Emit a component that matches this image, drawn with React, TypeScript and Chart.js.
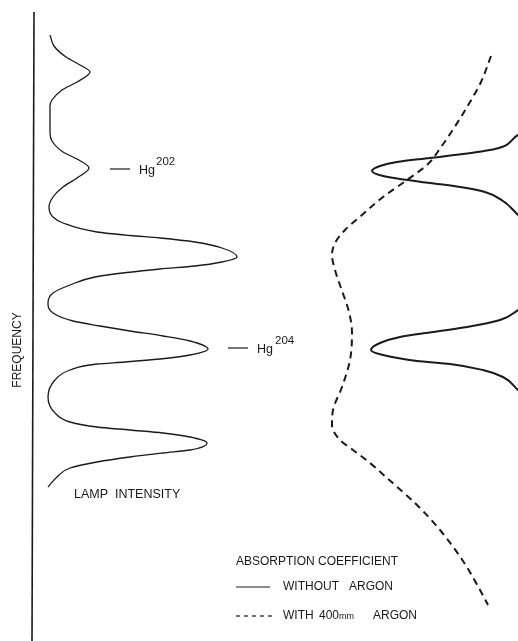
import React, { useEffect, useRef } from 'react';
import { Chart, registerables } from 'chart.js';

Chart.register(...registerables);

// ---- Lamp intensity (arbitrary units) versus frequency (arbitrary units, increasing upward)
const lampFrequency = [
  116.2, 114, 111.8, 110.2, 108.8, 106.8, 105.2, 103.2, 102, 96.6, 95, 92.8, 91.4, 89.6, 87.6, 85.8,
  83.8, 81.8, 79.8, 78.6, 76.8, 76.1, 75.6, 74.8, 73.6, 71.8, 70.8, 70, 69.4, 68.7, 67.8, 66.2, 64.6,
  62.6, 60.6, 59, 58, 57, 56, 55, 53.4, 52.2, 51.4, 50.8, 50.4, 49.2, 47.2, 43.8, 40.6, 38.8, 37.8,
  37.2, 36.6, 35.8, 34.6, 33.2, 32.6, 31.8, 30.8, 29.6, 27.8, 25.8,
];
const lampIntensity = [
  3.4, 4.2, 6.6, 9.4, 11.4, 8.8, 5.8, 3.8, 3.4, 3.4, 3.8, 6, 8.8, 11.2, 8.8, 6,
  4, 3.2, 4, 6, 12.8, 19.4, 25.4, 32.4, 37.8, 40.8, 37.8, 32.4, 25.4, 18.8, 12.4, 7.4, 4,
  3, 4, 8, 13.4, 19.4, 26, 31.4, 35, 31.4, 25.4, 18.4, 12.8, 7.4, 4.4, 3, 4.4, 7.4, 12.8,
  19.4, 26, 31.4, 34.8, 31.4, 26, 19.4, 12.8, 7.4, 4.8, 3,
];

// ---- Absorption coefficient without argon (axis increases to the left)
const noArgonFrequency = [
  111.2, 103.2, 98.8, 96.2, 93.4, 92.4, 91.6, 90.8, 90, 89, 88, 87.4, 86.6, 85.8, 84.8, 83, 80.2,
  76.8, 73.2, 70.8, 67.2, 64, 61.2, 59.2, 57.8, 56.8, 55.8, 54.6, 53.2, 52.2, 51, 50.4, 49.2, 47.8,
  45.2, 41.2, 35.2, 27.2,
];
const noArgonAbsorption = [
  2, 7.6, 14.6, 20, 24.6, 31, 37.6, 44.2, 47.6, 49.2, 47, 43.6, 37.6, 31.6, 26.6, 23, 20,
  16.6, 11.6, 7.6, 11.6, 16.6, 20, 23.6, 30.2, 37, 43.6, 47.6, 49.4, 47, 40.2, 33.6, 27, 23,
  20, 15.6, 9.6, 3.6,
];

// ---- Absorption coefficient with 400 mm argon
const argonFrequency = [
  112, 106.8, 101.8, 97.6, 93.8, 90.4, 87.2, 83.8, 80.2, 77.2, 74.6, 72.2, 69.2, 65.6, 60.8, 56.6,
  51.2, 45.8, 41.2, 38.2, 35.2, 33.2, 30.6, 27.6, 22.2, 17.2, 11, 5.2, 2.2,
];
const argonAbsorption = [
  25.4, 27.4, 30.2, 32.8, 35.4, 38, 42.2, 47, 51.2, 54.6, 56.6, 57.2, 56.6, 55.4, 53.8, 53.2,
  53.6, 55.2, 57, 57.2, 55.6, 53, 49.6, 46.2, 40.2, 35.6, 31, 27.6, 26,
];

const INK = '#1a1a1a';
const FONT = '"Liberation Sans", Arial, Helvetica, sans-serif';

const toPoints = (freq: number[], val: number[]) => freq.map((f, i) => ({ x: val[i], y: f }));

const figurePlugin = {
  id: 'figureAnnotations',
  afterDatasetsDraw(chart: any) {
    const ctx: CanvasRenderingContext2D = chart.ctx;
    const xs = chart.scales.x;
    const ys = chart.scales.y;
    const X = (v: number) => xs.getPixelForValue(v);
    const Y = (v: number) => ys.getPixelForValue(v);
    const text = (s: string, x: number, y: number, size: number, baseline: CanvasTextBaseline = 'middle', align: CanvasTextAlign = 'left') => {
      ctx.font = `${size}px ${FONT}`;
      ctx.textAlign = align;
      ctx.textBaseline = baseline;
      ctx.fillText(s, x, y);
    };
    const line = (x1: number, y1: number, x2: number, y2: number, w: number, dash: number[] = []) => {
      ctx.beginPath();
      ctx.setLineDash(dash);
      ctx.lineWidth = w;
      ctx.moveTo(x1, y1);
      ctx.lineTo(x2, y2);
      ctx.stroke();
      ctx.setLineDash([]);
    };
    ctx.save();
    ctx.fillStyle = INK;
    ctx.strokeStyle = INK;

    // frequency axis
    line(X(0.2), Y(120.8), X(-0.2), Y(-5), 1.6);

    // FREQUENCY label
    ctx.save();
    ctx.translate(X(-3.1), Y(53.2));
    ctx.rotate(-Math.PI / 2);
    text('FREQUENCY', 0, 0, 12, 'middle', 'center');
    ctx.restore();

    // LAMP INTENSITY
    text('LAMP  INTENSITY', X(8.2), Y(24.2), 12.5);

    // Hg 202
    line(X(15.4), Y(89.4), X(19.4), Y(89.4), 1.2);
    text('Hg', X(21.2), Y(88.4), 12.5, 'alphabetic');
    text('202', X(24.6), Y(90.2), 11.5, 'alphabetic');

    // Hg 204
    line(X(39), Y(53.6), X(43), Y(53.6), 1.2);
    text('Hg', X(44.8), Y(52.6), 12.5, 'alphabetic');
    text('204', X(48.4), Y(54.4), 11.5, 'alphabetic');

    // legend
    text('ABSORPTION COEFFICIENT', X(40.6), Y(10.8), 12);
    line(X(40.6), Y(5.8), X(47.4), Y(5.8), 1.2);
    text('WITHOUT   ARGON', X(50), Y(5.8), 12);
    line(X(40.6), Y(0), X(47.8), Y(0), 1.2, [4, 4]);
    text('WITH', X(50), Y(0), 12);
    text('400', X(57.2), Y(0), 12);
    text('mm', X(61.2), Y(0) + 1, 9);
    text('ARGON', X(68), Y(0), 12);

    ctx.restore();
  },
};

export default function App() {
  const canvasRef = useRef<HTMLCanvasElement | null>(null);

  useEffect(() => {
    if (!canvasRef.current) return;
    const chart = new Chart(canvasRef.current, {
      type: 'line',
      data: {
        datasets: [
          {
            label: 'Lamp intensity',
            data: toPoints(lampFrequency, lampIntensity),
            xAxisID: 'x',
            yAxisID: 'y',
            borderColor: INK,
            borderWidth: 1.3,
            clip: false,
          } as any,
          {
            label: 'Absorption coefficient, without argon',
            data: toPoints(noArgonFrequency, noArgonAbsorption),
            xAxisID: 'x2',
            yAxisID: 'y',
            borderColor: INK,
            borderWidth: 2,
            clip: false,
          } as any,
          {
            label: 'Absorption coefficient, with 400 mm argon',
            data: toPoints(argonFrequency, argonAbsorption),
            xAxisID: 'x2',
            yAxisID: 'y',
            borderColor: INK,
            borderWidth: 2,
            borderDash: [7, 5],
            clip: false,
          } as any,
        ],
      },
      options: {
        indexAxis: 'y',
        animation: false,
        responsive: false,
        maintainAspectRatio: false,
        events: [],
        layout: { padding: { left: 33, right: 35, top: 16, bottom: 25 } },
        elements: {
          point: { radius: 0 },
          line: { cubicInterpolationMode: 'monotone', capBezierPoints: false, fill: false },
        },
        scales: {
          x: { type: 'linear', min: 0, max: 90, display: false },
          x2: { type: 'linear', min: 27, max: 117, reverse: true, display: false },
          y: { type: 'linear', min: 0, max: 120, display: false },
        },
        plugins: {
          legend: { display: false },
          tooltip: { enabled: false },
          title: { display: false },
        },
      } as any,
      plugins: [figurePlugin],
    });
    return () => chart.destroy();
  }, []);

  return (
    <div style={{ position: 'absolute', left: 0, top: 0, width: 518, height: 641, background: '#ffffff' }}>
      <canvas ref={canvasRef} width={518} height={641} style={{ display: 'block' }} />
    </div>
  );
}
